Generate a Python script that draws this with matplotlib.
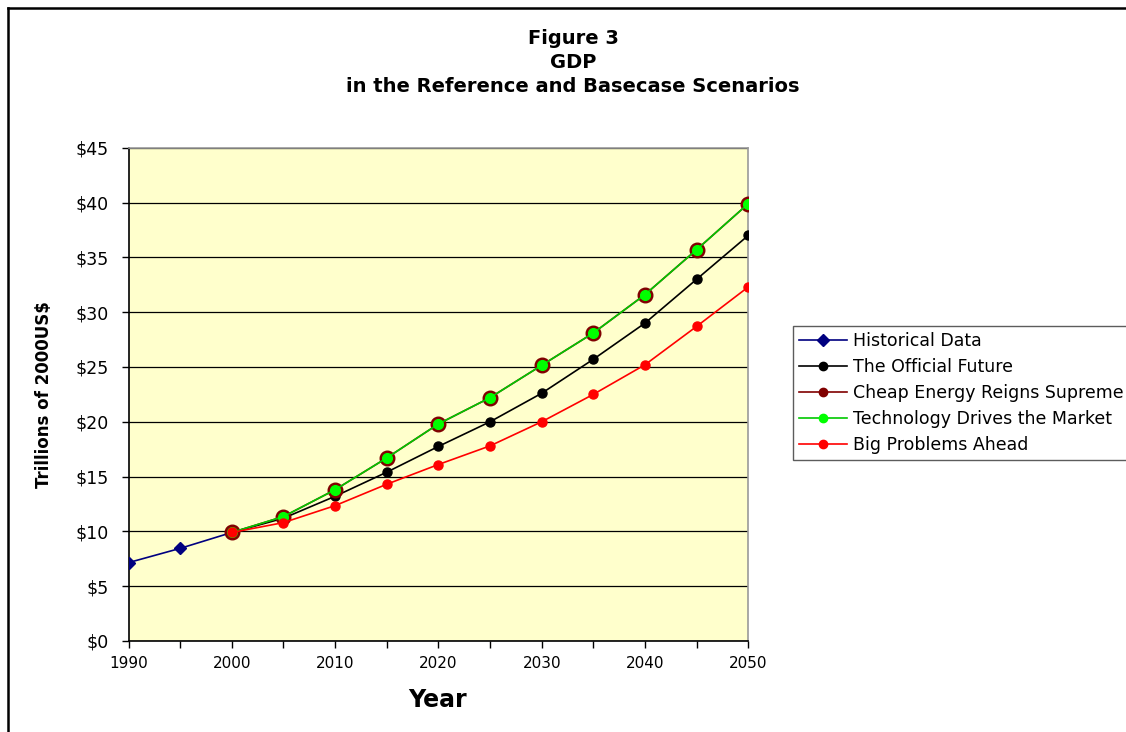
import matplotlib
matplotlib.use("Agg")
import matplotlib.pyplot as plt
from matplotlib.lines import Line2D

plt.rcParams['font.family'] = ['DejaVu Sans']

hist_years = [1990, 1995, 2000]
hist_vals = [7.15, 8.45, 9.9]

proj_years = [2000, 2005, 2010, 2015, 2020, 2025, 2030, 2035, 2040, 2045, 2050]
official = [9.9, 11.2, 13.2, 15.4, 17.75, 20.0, 22.6, 25.7, 29.0, 33.0, 37.0]
cheap = [9.9, 11.35, 13.8, 16.7, 19.8, 22.2, 25.15, 28.1, 31.6, 35.7, 39.9]
technology = [9.9, 11.35, 13.8, 16.7, 19.8, 22.2, 25.15, 28.1, 31.6, 35.7, 39.9]
big_problems = [9.9, 10.8, 12.35, 14.3, 16.1, 17.8, 20.0, 22.5, 25.2, 28.7, 32.3]

labels = ["Historical Data", "The Official Future", "Cheap Energy Reigns Supreme",
          "Technology Drives the Market", "Big Problems Ahead"]

W, H = 1126, 732
fig = plt.figure(figsize=(W / 100, H / 100), dpi=100)
ax = fig.add_axes([128.5 / W, 1 - 641 / H, (748.3 - 128.5) / W, (641 - 147.7) / H])
ax.set_facecolor('#FFFFCC')

lw = 1.2
ax.plot(hist_years, hist_vals, color='#000080', lw=lw, marker='D', ms=6,
        mfc='#000080', mec='#000080', label=labels[0], zorder=3)
ax.plot(proj_years, official, color='black', lw=lw, marker='o', ms=6.5,
        mfc='black', mec='black', label=labels[1], zorder=4)
ax.plot(proj_years, cheap, color='#800000', lw=lw, marker='o', ms=10.5,
        mfc='#800000', mec='#800000', label=labels[2], zorder=5)
ax.plot(proj_years, technology, color='#00C800', lw=lw, marker='o', ms=7,
        mfc='#00FF00', mec='#00FF00', label=labels[3], zorder=6)
ax.plot(proj_years, big_problems, color='#FF0000', lw=lw, marker='o', ms=6.5,
        mfc='#FF0000', mec='#FF0000', label=labels[4], zorder=7)

ax.set_xlim(1990, 2050)
ax.set_ylim(0, 45)
ax.set_yticks(range(0, 46, 5))
ax.set_yticklabels([f"${v}" for v in range(0, 46, 5)])
ax.set_xticks(range(1990, 2051, 10))
ax.set_xticks(range(1995, 2050, 10), minor=True)
ax.tick_params(axis='both', which='both', direction='out', length=5, width=1,
               color='black')
ax.tick_params(axis='y', labelsize=12.5, pad=9)
ax.tick_params(axis='x', labelsize=11, pad=6)
ax.grid(axis='y', color='black', lw=0.9, zorder=1)
ax.set_axisbelow(True)

for side in ['left', 'bottom']:
    ax.spines[side].set_color('black')
    ax.spines[side].set_linewidth(1.2)
for side in ['top', 'right']:
    ax.spines[side].set_color('#999999')
    ax.spines[side].set_linewidth(1.2)

fig.text(573 / W, 1 - 38 / H, "Figure 3", ha='center', va='center',
         fontsize=14, fontweight='bold')
fig.text(573 / W, 1 - 62 / H, "GDP", ha='center', va='center',
         fontsize=14, fontweight='bold')
fig.text(573 / W, 1 - 87 / H, "in the Reference and Basecase Scenarios",
         ha='center', va='center', fontsize=14, fontweight='bold')

fig.text(44 / W, 1 - 395 / H, "Trillions of 2000US$", rotation=90, ha='center',
         va='center', fontsize=12, fontweight='bold')
fig.text(438 / W, 1 - 700 / H, "Year", ha='center', va='center',
         fontsize=17, fontweight='bold')

leg = fig.legend(loc='upper left', bbox_to_anchor=(793 / W, 1 - 326 / H),
                 frameon=True, fancybox=False, edgecolor='#333333',
                 fontsize=12.5, handlelength=2.8, handletextpad=0.3,
                 borderpad=0.33, labelspacing=0.47, borderaxespad=0)
leg.get_frame().set_linewidth(1.0)
for h in leg.legend_handles:
    h.set_markersize(6)

# outer chart border (left and top edges visible)
fig.add_artist(Line2D([8 / W, 8 / W], [0, 1 - 8 / H], transform=fig.transFigure,
                      color='black', lw=1.8))
fig.add_artist(Line2D([8 / W, 1], [1 - 8 / H, 1 - 8 / H], transform=fig.transFigure,
                      color='black', lw=1.8))

fig.savefig("out.png", dpi=100)
